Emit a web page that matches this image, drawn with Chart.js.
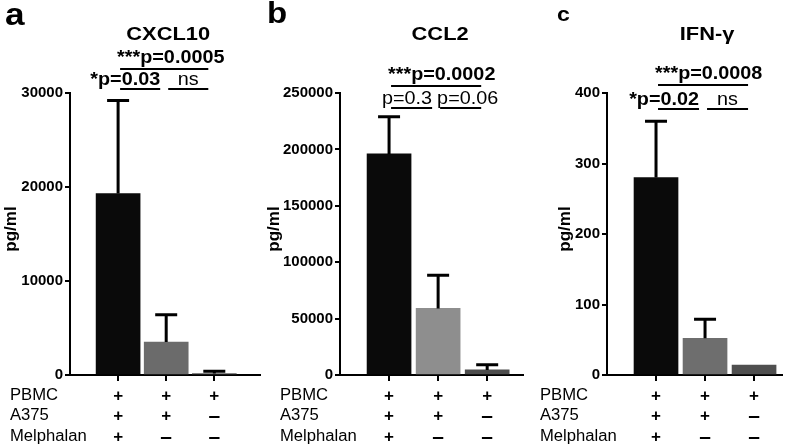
<!DOCTYPE html>
<html>
<head>
<meta charset="utf-8">
<script src="https://cdn.jsdelivr.net/npm/chart.js@4.4.1/dist/chart.umd.min.js"></script>
<style>
  body { margin: 0; background: #fff; width: 800px; height: 445px; position: relative; overflow: hidden; }
  canvas { position: absolute; top: 0; }
</style>
</head>
<body>
<canvas id="pa" width="265" height="445" style="left:0"></canvas>
<canvas id="pb" width="265" height="445" style="left:265px"></canvas>
<canvas id="pc" width="270" height="445" style="left:530px"></canvas>
<script>
// rows of the +/- table under each panel
const conditions = ['PBMC', 'A375', 'Melphalan'];
const conditionSigns = [
  ['+', '+', '+'],
  ['+', '+', '–'],
  ['+', '–', '–']
];

// CXCL10
const cxcl10Mean = [19300, 3500, 150];
const cxcl10Sd = [9900, 2900, 250];
const cxcl10Ticks = [0, 10000, 20000, 30000];
const cxcl10Sig = [
  { text: '***p=0.0005', bold: true, from: 0, to: 2, level: 0, anchor: 'left' },
  { text: '*p=0.03', bold: true, from: 0, to: 1, level: 1, anchor: 'right' },
  { text: 'ns', bold: false, from: 1, to: 2, level: 1, anchor: 'center' }
];

// CCL2
const ccl2Mean = [196000, 59000, 4500];
const ccl2Sd = [33000, 29500, 4500];
const ccl2Ticks = [0, 50000, 100000, 150000, 200000, 250000];
const ccl2Sig = [
  { text: '***p=0.0002', bold: true, from: 0, to: 2, level: 0, anchor: 'left' },
  { text: 'p=0.3', bold: false, from: 0, to: 1, level: 1, anchor: 'right' },
  { text: 'p=0.06', bold: false, from: 1, to: 2, level: 1, anchor: 'left' }
];

// IFN-gamma
const ifngMean = [280, 52, 14];
const ifngSd = [80, 27, 0];
const ifngTicks = [0, 100, 200, 300, 400];
const ifngSig = [
  { text: '***p=0.0008', bold: true, from: 0, to: 2, level: 0, anchor: 'left' },
  { text: '*p=0.02', bold: true, from: 0, to: 1, level: 1, anchor: 'right' },
  { text: 'ns', bold: false, from: 1, to: 2, level: 1, anchor: 'center' }
];

const FONT = '"Liberation Sans", Arial, Helvetica, sans-serif';
const ROW_Y = [396, 416, 437];

// the original figure's lettering is a bit wider than Arial, so stretch it a little
function wideText(ctx, text, x, y, align, sx) {
  const w = ctx.measureText(text).width * sx;
  const left = align === 'center' ? x - w / 2 : align === 'right' ? x - w : x;
  ctx.save();
  ctx.translate(left, y);
  ctx.scale(sx, 1);
  ctx.textAlign = 'left';
  ctx.fillText(text, 0, 0);
  ctx.restore();
}

function makePanel(id, p) {
  const overlay = {
    id: 'overlay',
    afterDatasetsDraw(chart) {
      const ctx = chart.ctx, y = chart.scales.y;
      const bars = chart.getDatasetMeta(0).data;
      ctx.save();
      ctx.strokeStyle = '#000';
      ctx.lineWidth = 3;
      bars.forEach((bar, i) => {
        if (!p.sd[i]) return;
        const top = y.getPixelForValue(p.mean[i] + p.sd[i]);
        ctx.beginPath();
        ctx.moveTo(bar.x, bar.y);
        ctx.lineTo(bar.x, top);
        ctx.moveTo(bar.x - 11, top);
        ctx.lineTo(bar.x + 11, top);
        ctx.stroke();
      });
      ctx.restore();
    },
    afterDraw(chart) {
      const ctx = chart.ctx, x = chart.scales.x;
      const cx = i => x.getPixelForValue(i + 1);
      ctx.save();
      ctx.fillStyle = '#000';
      ctx.strokeStyle = '#000';
      ctx.textBaseline = 'alphabetic';

      // panel letter + title
      ctx.font = `bold ${p.letterSize}px ${FONT}`;
      wideText(ctx, p.letter, p.letterX, p.letterY, 'left', 1.1);
      ctx.font = `bold 19px ${FONT}`;
      wideText(ctx, p.title, cx(1) + 2, 40, 'center', 1.15);

      // significance bars
      ctx.lineWidth = 2;
      p.sig.forEach(s => {
        const x0 = cx(s.from) + 2, x1 = cx(s.to) - 6, ly = p.sigY[s.level];
        ctx.beginPath();
        ctx.moveTo(x0, ly);
        ctx.lineTo(x1, ly);
        ctx.stroke();
        ctx.font = `${s.bold ? 'bold ' : ''}18px ${FONT}`;
        const tx = s.anchor === 'left' ? x0 - 3 : s.anchor === 'right' ? x1 : (x0 + x1) / 2;
        wideText(ctx, s.text, tx, ly - (s.level ? 4 : 6), s.anchor, 1.1);
      });

      // y title
      ctx.save();
      ctx.translate(p.yTitleX, 229);
      ctx.rotate(-Math.PI / 2);
      ctx.textBaseline = 'middle';
      ctx.font = `bold 17px ${FONT}`;
      wideText(ctx, 'pg/ml', 0, 0, 'center', 1);
      ctx.restore();

      // condition table
      ctx.textBaseline = 'middle';
      conditions.forEach((name, r) => {
        ctx.font = `16px ${FONT}`;
        wideText(ctx, name, p.rowX, ROW_Y[r], 'left', 1.04);
        ctx.textAlign = 'center';
        conditionSigns[r].forEach((sign, j) => {
          ctx.font = sign === '+' ? `bold 17px ${FONT}` : `bold 21px ${FONT}`;
          ctx.fillText(sign, cx(j), ROW_Y[r]);
        });
      });
      ctx.restore();
    }
  };

  return new Chart(document.getElementById(id), {
    type: 'bar',
    data: {
      datasets: [{
        data: p.mean.map((v, i) => ({ x: i + 1, y: v })),
        backgroundColor: p.colors,
        borderWidth: 0,
        barThickness: 44
      }]
    },
    options: {
      responsive: false,
      animation: false,
      layout: { padding: { left: 0, right: p.padRight, top: 93, bottom: 0 } },
      plugins: { legend: { display: false }, tooltip: { enabled: false } },
      scales: {
        x: {
          type: 'linear', min: 0, max: p.xMax, offset: false,
          afterBuildTicks: s => { s.ticks = p.mean.map((_, i) => ({ value: i + 1 })); },
          afterFit: s => { s.height = 70; },
          border: { color: '#000', width: 2 },
          grid: { offset: false, drawOnChartArea: false, tickLength: 6, color: '#000', lineWidth: 2 },
          ticks: { display: false }
        },
        y: {
          min: 0, max: p.ticks[p.ticks.length - 1],
          afterBuildTicks: s => { s.ticks = p.ticks.map(v => ({ value: v })); },
          afterFit: s => { s.width = p.axisW; },
          border: { color: '#000', width: 2 },
          grid: { drawOnChartArea: false, tickLength: 5, color: '#000', lineWidth: 2 },
          ticks: {
            color: '#000', padding: 2,
            font: { family: FONT, size: 15, weight: 'bold' },
            callback: v => String(v)
          }
        }
      }
    },
    plugins: [overlay]
  });
}

makePanel('pa', {
  letter: 'a', letterSize: 32, letterX: 5, letterY: 25,
  title: 'CXCL10', mean: cxcl10Mean, sd: cxcl10Sd, ticks: cxcl10Ticks,
  colors: ['#0a0a0a', '#6b6b6b', '#5c5c5c'],
  sig: cxcl10Sig, sigY: [69, 89],
  axisW: 70, padRight: 5, xMax: 3.95, rowX: 10, yTitleX: 11
});

makePanel('pb', {
  letter: 'b', letterSize: 30, letterX: 2, letterY: 23,
  title: 'CCL2', mean: ccl2Mean, sd: ccl2Sd, ticks: ccl2Ticks,
  colors: ['#0a0a0a', '#8e8e8e', '#4d4d4d'],
  sig: ccl2Sig, sigY: [86, 108],
  axisW: 75, padRight: 7, xMax: 3.73, rowX: 15, yTitleX: 9
});

makePanel('pc', {
  letter: 'c', letterSize: 21, letterX: 27, letterY: 21,
  title: 'IFN-γ', mean: ifngMean, sd: ifngSd, ticks: ifngTicks,
  colors: ['#0a0a0a', '#6e6e6e', '#4f4f4f'],
  sig: ifngSig, sigY: [85, 109],
  axisW: 77, padRight: 18, xMax: 3.57, rowX: 10, yTitleX: 35
});
</script>
</body>
</html>
